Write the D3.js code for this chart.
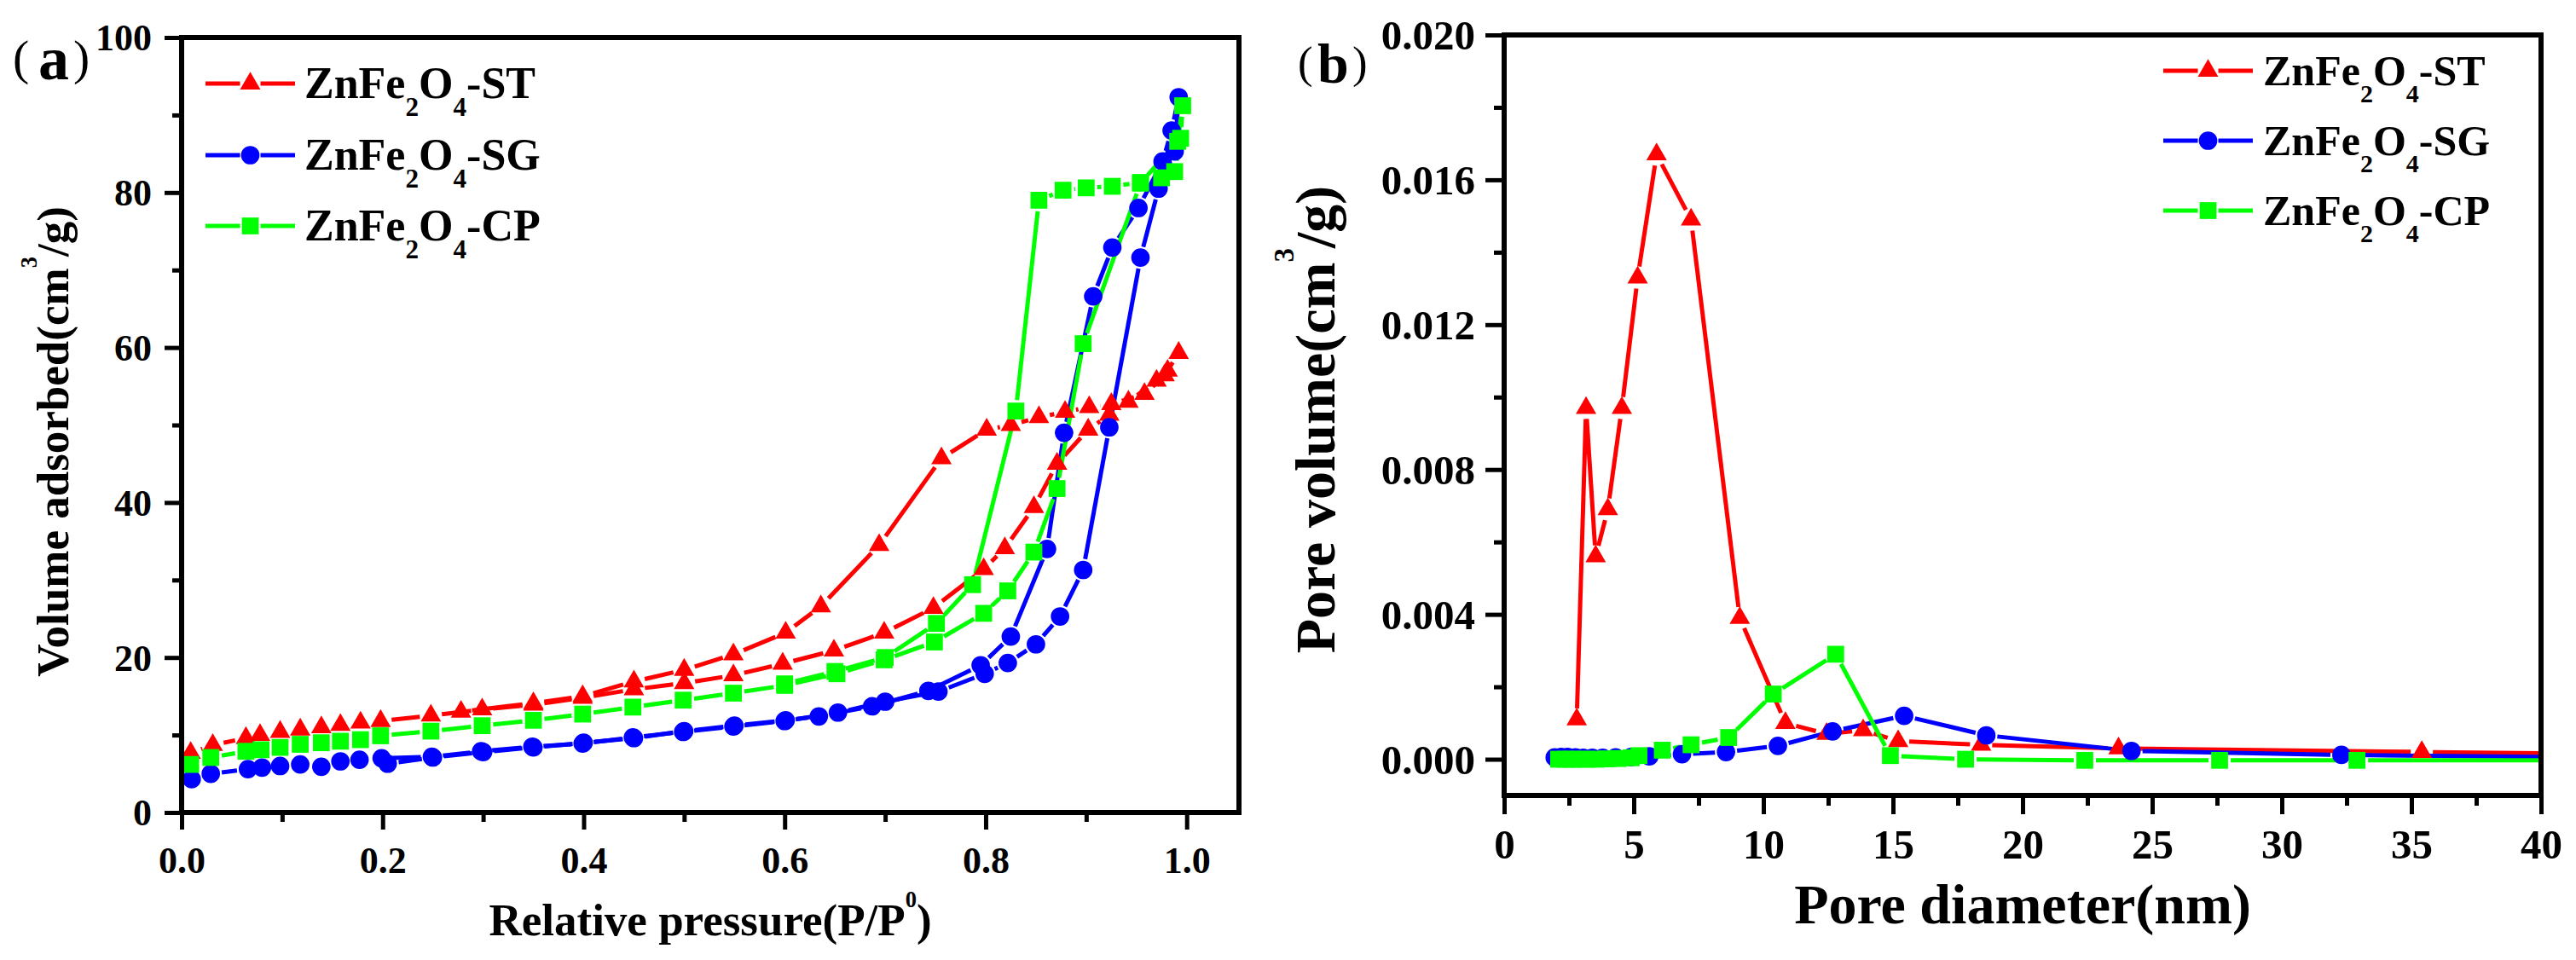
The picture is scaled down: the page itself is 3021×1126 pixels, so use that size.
<!DOCTYPE html>
<html>
<head>
<meta charset="utf-8">
<script src="https://cdn.jsdelivr.net/npm/d3@7"></script>
<style>
  html, body { margin: 0; padding: 0; background: #fff; }
  svg text { font-family: "Liberation Serif", "Times New Roman", serif; font-weight: bold; fill: #000; }
</style>
</head>
<body>
<svg id="chart" width="3021" height="1126"></svg>
<script>
/*
* ZnFe2O4 N2 isotherms (a) and pore size distribution (b)
*/

const samples = ['ST', 'SG', 'CP'];

const COLORS = {
  ST: '#FF0000',
  SG: '#0000FF',
  CP: '#00FF00'
};

// (a) isotherms, [P/P0, volume adsorbed cm3/g]
const stAds = [[0.009, 7.7], [0.031, 8.7], [0.064, 9.6], [0.078, 10.0], [0.098, 10.4], [0.118, 10.7], [0.139, 11.0],
  [0.158, 11.3], [0.178, 11.6], [0.198, 11.8], [0.248, 12.5], [0.299, 13.3], [0.350, 13.9], [0.399, 14.8], [0.450, 15.9],
  [0.500, 16.7], [0.549, 17.7], [0.598, 19.2], [0.649, 20.9], [0.699, 23.2], [0.748, 26.4], [0.798, 31.4], [0.819, 34.1],
  [0.848, 39.4], [0.871, 45.0], [0.902, 49.4], [0.923, 51.3], [0.942, 53.0], [0.970, 55.7], [0.981, 57.0], [0.992, 59.3]];
const stDes = [[0.978, 56.4], [0.958, 54.0], [0.925, 52.7], [0.903, 52.3], [0.879, 51.7], [0.853, 51.0], [0.825, 50.0],
  [0.801, 49.4], [0.756, 45.7], [0.694, 34.5], [0.636, 26.6], [0.601, 23.2], [0.549, 20.4], [0.500, 18.4], [0.450, 16.9],
  [0.399, 15.0], [0.350, 14.1], [0.278, 13.0]];

const sgAds = [[0.010, 4.3], [0.029, 5.0], [0.066, 5.6], [0.080, 5.8], [0.098, 6.0], [0.118, 6.2], [0.139, 5.9],
  [0.158, 6.6], [0.177, 6.8], [0.199, 7.0], [0.249, 7.2], [0.298, 7.9], [0.349, 8.5], [0.399, 8.9], [0.449, 9.7],
  [0.499, 10.4], [0.549, 11.1], [0.600, 11.8], [0.653, 12.9], [0.700, 14.3], [0.753, 15.6], [0.799, 17.9], [0.822, 19.3],
  [0.850, 21.7], [0.874, 25.3], [0.897, 31.3], [0.923, 49.7], [0.954, 71.6], [0.972, 80.5], [0.988, 85.3], [0.992, 92.3]];
const sgDes = [[0.985, 88.0], [0.976, 84.0], [0.952, 78.0], [0.926, 72.9], [0.907, 66.6], [0.878, 49.0], [0.861, 34.0],
  [0.825, 22.7], [0.795, 19.0], [0.743, 15.7], [0.687, 13.7], [0.634, 12.4], [0.601, 11.9], [0.550, 11.2], [0.500, 10.5],
  [0.450, 9.6], [0.400, 9.0], [0.350, 8.4], [0.300, 7.8], [0.250, 7.1], [0.205, 6.3]];

const cpAds = [[0.009, 6.2], [0.029, 7.1], [0.064, 7.9], [0.079, 8.1], [0.098, 8.4], [0.118, 8.8], [0.139, 9.0],
  [0.158, 9.2], [0.178, 9.4], [0.198, 9.9], [0.248, 10.5], [0.299, 11.2], [0.350, 11.9], [0.399, 12.7], [0.449, 13.6],
  [0.499, 14.5], [0.549, 15.4], [0.600, 16.4], [0.652, 17.9], [0.699, 19.7], [0.749, 22.0], [0.798, 25.7], [0.822, 28.6],
  [0.848, 33.6], [0.871, 41.8], [0.897, 60.5], [0.954, 81.2], [0.991, 86.6], [0.996, 91.2]];
const cpDes = [[0.994, 87.0], [0.988, 82.7], [0.975, 81.9], [0.954, 81.3], [0.926, 80.8], [0.900, 80.6], [0.877, 80.3],
  [0.853, 79.0], [0.830, 51.8], [0.787, 29.4], [0.751, 24.4], [0.700, 20.0], [0.650, 18.2], [0.600, 16.6]];

// (b) pore size distribution, [pore diameter nm, pore volume cm3/g]
const stPore = [[2.8, 0.0011], [3.16, 0.0097], [3.53, 0.0056], [4.0, 0.0069], [4.54, 0.0097], [5.15, 0.0133],
  [5.88, 0.0167], [7.21, 0.0149], [9.09, 0.0039], [10.85, 0.0010], [12.44, 0.0007], [13.85, 0.0008], [15.2, 0.0005],
  [18.4, 0.0004], [23.7, 0.0003], [35.4, 0.0002], [42.0, 0.00015]];
const sgPore = [[1.95, 0.00005], [2.2, 0.00006], [2.45, 0.00006], [2.75, 0.00005], [3.05, 0.00004], [3.4, 0.00004],
  [3.8, 0.00004], [4.3, 0.00005], [4.9, 0.00006], [5.6, 0.00008], [6.86, 0.00014], [8.56, 0.0002], [10.56, 0.00037],
  [12.67, 0.00077], [15.43, 0.0012], [18.6, 0.00066], [24.2, 0.00023], [32.3, 0.00012], [42.0, 0.00005]];
const cpPore = [[2.1, 0.0], [2.35, 0.0], [2.6, 0.0], [2.9, 0.0], [3.2, 0.0], [3.55, 0.0], [3.95, 0.00001],
  [4.4, 0.00002], [4.9, 0.00004], [5.2, 0.0001], [6.1, 0.00025], [7.21, 0.0004], [8.66, 0.0006], [10.38, 0.0018],
  [12.79, 0.0029], [14.9, 0.0001], [17.8, 0.0], [22.4, -0.00003], [27.6, -0.00003], [32.9, -0.00003], [42.0, -0.00003]];

// ticks
const isoTicksX = [0, 0.2, 0.4, 0.6, 0.8, 1.0];
const isoMinorX = [0.1, 0.3, 0.5, 0.7, 0.9];
const isoTicksY = [0, 20, 40, 60, 80, 100];
const isoMinorY = [10, 30, 50, 70, 90];
const poreTicksX = [0, 5, 10, 15, 20, 25, 30, 35, 40];
const poreMinorX = [2.5, 7.5, 12.5, 17.5, 22.5, 27.5, 32.5, 37.5];
const poreTicksY = [0, 0.004, 0.008, 0.012, 0.016, 0.020];
const poreMinorY = [0.002, 0.006, 0.010, 0.014, 0.018];

const isoData = { ST: stAds.concat(stDes), SG: sgAds.concat(sgDes), CP: cpAds.concat(cpDes) };
const poreData = { ST: stPore, SG: sgPore, CP: cpPore };

const SYMBOLS = {
  ST: d3.symbol().type(d3.symbolTriangle).size(250),
  SG: d3.symbol().type(d3.symbolCircle).size(370),
  CP: d3.symbol().type(d3.symbolSquare).size(390)
};

let svg;

window.onload = function () {
  svg = d3.select('#chart');

  drawPanel({
    id: 'a',
    left: 213, right: 1453, top: 44, bottom: 953,
    xDomain: [0, 1.052], yDomain: [0, 100],
    xTicks: isoTicksX, xMinor: isoMinorX, yTicks: isoTicksY, yMinor: isoMinorY,
    xFormat: d3.format('.1f'), yFormat: d3.format('d'),
    tickFont: 44, majorLen: 20, minorLen: 11, xLabelY: 71, yLabelX: -35,
    data: isoData
  });

  drawPanel({
    id: 'b',
    left: 1764, right: 2980, top: 41, bottom: 933,
    xDomain: [0, 40], yDomain: [-0.001, 0.020],
    xTicks: poreTicksX, xMinor: poreMinorX, yTicks: poreTicksY, yMinor: poreMinorY,
    xFormat: d3.format('d'), yFormat: d3.format('.3f'),
    tickFont: 49, majorLen: 22, minorLen: 12, xLabelY: 74, yLabelX: -34,
    data: poreData
  });

  // axis titles
  richText(svg, 833, 1097, 53, [
    { t: 'Relative pressure(P/P' }, { t: '0', sup: 0.62 }, { t: ')' }
  ]).attr('text-anchor', 'middle');

  richText(svg, 0, 0, 53, [
    { t: 'Volume adsorbed(cm' }, { t: '3', sup: 0.7 }, { t: '/g)' }
  ]).attr('text-anchor', 'middle').attr('transform', 'translate(80,518) rotate(-90)');

  richText(svg, 2372, 1083, 66, [{ t: 'Pore diameter(nm)' }]).attr('text-anchor', 'middle');

  richText(svg, 0, 0, 66, [
    { t: 'Pore volume(cm' }, { t: '3', sup: 0.72 }, { t: '/g)' }
  ]).attr('text-anchor', 'middle').attr('transform', 'translate(1565,492) rotate(-90)');

  // panel letters
  panelLetter(15, 'a', 72, 93, 45, 86);
  panelLetter(1522, 'b', 66, 97, 1545, 1586);

  // legends
  drawLegend(241, 346, [98, 182, 265], 357, 52);
  drawLegend(2537, 2642, [83, 165, 247], 2654, 50);
};

function drawPanel(p) {
  let x = d3.scaleLinear().domain(p.xDomain).range([p.left, p.right]);
  let y = d3.scaleLinear().domain(p.yDomain).range([p.bottom, p.top]);

  let g = svg.append('g').attr('class', 'panel-' + p.id);

  g.append('clipPath').attr('id', 'clip-' + p.id)
    .append('rect')
    .attr('x', p.left).attr('y', p.top)
    .attr('width', p.right - p.left).attr('height', p.bottom - p.top);

  // minor ticks first, then major ticks with labels
  let bottomMinor = g.append('g')
    .attr('transform', 'translate(0,' + p.bottom + ')')
    .call(d3.axisBottom(x).tickValues(p.xMinor).tickSize(p.minorLen).tickFormat(''));
  let leftMinor = g.append('g')
    .attr('transform', 'translate(' + p.left + ',0)')
    .call(d3.axisLeft(y).tickValues(p.yMinor).tickSize(p.minorLen).tickFormat(''));
  let bottomMajor = g.append('g')
    .attr('transform', 'translate(0,' + p.bottom + ')')
    .call(d3.axisBottom(x).tickValues(p.xTicks).tickSize(p.majorLen).tickFormat(p.xFormat));
  let leftMajor = g.append('g')
    .attr('transform', 'translate(' + p.left + ',0)')
    .call(d3.axisLeft(y).tickValues(p.yTicks).tickSize(p.majorLen).tickFormat(p.yFormat));

  [bottomMinor, leftMinor, bottomMajor, leftMajor].forEach(function (ax) {
    ax.select('.domain').remove();
    ax.attr('font-size', p.tickFont);
    ax.selectAll('.tick line').attr('stroke', '#000').attr('stroke-width', 5);
  });
  bottomMajor.selectAll('.tick text').attr('y', p.xLabelY).attr('dy', null);
  leftMajor.selectAll('.tick text').attr('x', p.yLabelX).attr('dy', '0.34em');

  // curves, with small gaps next to every symbol
  let plot = g.append('g').attr('clip-path', 'url(#clip-' + p.id + ')');
  samples.forEach(function (s) {
    let pts = p.data[s];
    plot.append('g')
      .selectAll('line')
      .data(gapSegments(pts, x, y, 13))
      .enter().append('line')
      .attr('x1', function (d) { return d[0]; })
      .attr('y1', function (d) { return d[1]; })
      .attr('x2', function (d) { return d[2]; })
      .attr('y2', function (d) { return d[3]; })
      .attr('stroke', COLORS[s])
      .attr('stroke-width', 5);
  });
  samples.forEach(function (s) {
    plot.append('g')
      .selectAll('path')
      .data(p.data[s])
      .enter().append('path')
      .attr('d', SYMBOLS[s])
      .attr('transform', function (d) { return 'translate(' + x(d[0]) + ',' + y(d[1]) + ')'; })
      .attr('fill', COLORS[s]);
  });

  g.append('rect')
    .attr('x', p.left).attr('y', p.top)
    .attr('width', p.right - p.left).attr('height', p.bottom - p.top)
    .attr('fill', 'none')
    .attr('stroke', '#000')
    .attr('stroke-width', 6);
}

// line pieces between consecutive points, pulled back from both symbols
function gapSegments(pts, x, y, gap) {
  let segs = [];
  for (let i = 1; i < pts.length; i++) {
    let x1 = x(pts[i - 1][0]), y1 = y(pts[i - 1][1]);
    let x2 = x(pts[i][0]), y2 = y(pts[i][1]);
    let len = Math.hypot(x2 - x1, y2 - y1);
    if (len <= 2 * gap) continue;
    let ux = (x2 - x1) / len, uy = (y2 - y1) / len;
    segs.push([x1 + ux * gap, y1 + uy * gap, x2 - ux * gap, y2 - uy * gap]);
  }
  return segs;
}

function richText(parent, x, y, size, parts) {
  let t = parent.append('text')
    .attr('x', x).attr('y', y)
    .attr('font-size', size);
  parts.forEach(function (part) {
    if (part.sup) {
      t.append('tspan').attr('font-size', size * 0.5).attr('dy', -size * part.sup).text(part.t);
    } else if (part.sub) {
      t.append('tspan').attr('font-size', size * 0.6).attr('dy', size * part.sub).text(part.t);
    } else {
      let back = t.node().lastChild ? t.node().lastChild.getAttribute('dy') : null;
      t.append('tspan').attr('dy', back ? -parseFloat(back) : 0).text(part.t);
    }
  });
  return t;
}

function panelLetter(px, letter, size, baseline, letterX, closeX) {
  let parenSize = size * 0.8;
  svg.append('text').attr('x', px).attr('y', baseline - 6)
    .attr('font-size', parenSize).style('font-weight', 'normal').text('(');
  svg.append('text').attr('x', letterX).attr('y', baseline)
    .attr('font-size', size).text(letter);
  svg.append('text').attr('x', closeX).attr('y', baseline - 6)
    .attr('font-size', parenSize).style('font-weight', 'normal').text(')');
}

function drawLegend(x1, x2, rows, textX, size) {
  let mid = (x1 + x2) / 2;
  let g = svg.append('g').attr('class', 'legend');

  samples.forEach(function (s, i) {
    let yy = rows[i];
    g.append('line').attr('x1', x1).attr('x2', mid - 12).attr('y1', yy).attr('y2', yy)
      .attr('stroke', COLORS[s]).attr('stroke-width', 5);
    g.append('line').attr('x1', mid + 12).attr('x2', x2).attr('y1', yy).attr('y2', yy)
      .attr('stroke', COLORS[s]).attr('stroke-width', 5);
    g.append('path').attr('d', SYMBOLS[s])
      .attr('transform', 'translate(' + mid + ',' + yy + ')')
      .attr('fill', COLORS[s]);

    richText(g, textX, yy + 17, size, [
      { t: 'ZnFe' }, { t: '2', sub: 0.4 }, { t: 'O' }, { t: '4', sub: 0.4 }, { t: '-' + s }
    ]);
  });
}
</script>
</body>
</html>
